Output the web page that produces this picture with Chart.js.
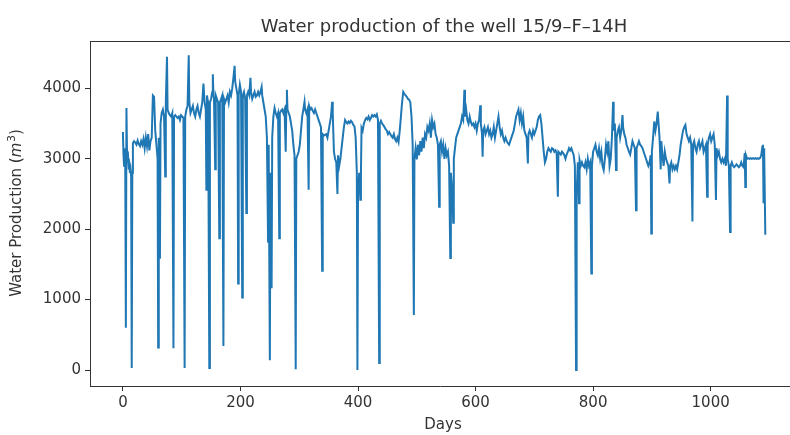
<!DOCTYPE html>
<html>
<head>
<meta charset="utf-8">
<script src="https://cdn.jsdelivr.net/npm/chart.js@4.4.1/dist/chart.umd.min.js"></script>
<style>
  html, body { margin: 0; padding: 0; background: #fff; }
  canvas { display: block; }
</style>
</head>
<body>
<canvas id="wellChart" width="790" height="435"></canvas>
<script>
// Days since start of production
var days = [
  0,1,2,3,4,5,6,7,8,9,
  10,11,12,13,14,15,16,17,19,21,
  23,25,27,29,31,33,35,37,39,41,
  43,45,47,49,51,53,55,57,59,60,
  61,63,64,66,68,70,72,73,75,76,
  78,80,82,84,86,87,89,91,93,95,
  97,99,101,103,105,106,108,110,112,113,
  115,117,119,121,123,125,127,129,131,133,
  135,137,139,141,142,143,145,147,148,150,
  152,153,154,155,157,158,160,162,164,165,
  167,169,171,172,174,176,178,180,182,184,
  186,188,190,191,193,195,196,197,199,201,
  203,204,206,208,210,211,213,215,217,218,
  220,222,224,226,228,230,232,234,236,237,
  239,241,243,245,247,248,250,251,253,254,
  256,258,260,262,264,266,267,269,271,273,
  275,277,278,279,280,282,284,286,288,290,
  292,294,295,297,299,301,303,305,307,309,
  310,312,314,316,317,319,321,323,325,327,
  329,331,333,335,337,339,340,342,344,346,
  348,350,352,354,356,357,359,361,363,365,
  366,368,370,372,374,376,378,380,382,384,
  386,388,390,392,394,396,398,399,400,402,
  404,405,406,408,410,412,414,416,418,420,
  422,424,426,428,430,432,434,436,437,439,
  441,443,445,447,449,451,453,455,457,459,
  461,463,465,467,469,471,473,475,477,479,
  481,483,485,487,489,491,493,495,496,498,
  500,502,504,506,508,510,512,514,516,518,
  520,522,524,526,528,530,532,534,536,538,
  539,541,543,545,547,549,551,553,555,557,
  558,560,562,563,565,567,569,571,573,575,
  577,579,581,582,584,586,588,590,592,594,
  596,598,600,602,604,606,608,609,611,612,
  613,615,617,619,621,623,625,627,629,631,
  633,635,637,639,641,643,645,647,649,651,
  653,655,657,659,661,663,665,667,669,671,
  673,675,677,679,681,683,685,687,689,690,
  692,694,696,698,700,702,704,706,708,710,
  712,714,716,718,720,722,724,726,728,730,
  732,734,736,738,740,741,743,745,747,749,
  751,753,755,757,759,761,763,765,767,769,
  771,772,774,776,777,779,781,783,785,787,
  789,791,793,795,797,798,800,802,804,806,
  808,810,812,814,816,818,820,822,824,826,
  828,830,832,834,835,837,839,840,842,844,
  846,848,850,851,853,855,857,859,861,863,
  865,867,869,871,873,874,876,878,880,882,
  884,886,888,890,892,894,896,898,899,900,
  902,904,906,908,910,911,913,915,916,918,
  920,922,924,926,928,930,931,933,935,937,
  939,941,943,945,947,949,951,953,955,957,
  959,961,963,965,967,969,970,972,974,976,
  978,980,982,984,986,988,990,992,994,995,
  997,999,1001,1003,1005,1007,1009,1010,1012,1014,
  1016,1018,1020,1022,1024,1026,1028,1029,1031,1033,
  1034,1036,1038,1040,1042,1044,1046,1048,1050,1052,
  1054,1056,1058,1059,1060,1062,1064,1066,1068,1070,
  1072,1074,1076,1078,1080,1082,1084,1086,1088,1089,
  1090,1091,1093
];

// Water production (m3), one value per entry of days
var water = [
  3380,3050,2900,3150,2880,600,3720,3100,2950,3000,
  2850,2900,2800,2850,2750,30,2800,3220,3250,3230,
  3200,3260,3210,3180,3250,3200,3280,3150,3300,3180,
  3350,3120,3250,3300,3900,3880,3400,3200,3000,320,
  3300,1580,3500,3650,3700,3600,2750,3800,4450,3700,
  3650,3620,3600,3650,310,3600,3620,3600,3580,3600,
  3550,3620,3600,3580,30,3600,3700,3750,4470,3800,
  3650,3700,3750,3650,3600,3700,3750,3650,3600,3700,
  3800,4070,3800,3700,2560,3900,3800,30,3800,3850,
  3950,4200,3900,3850,2850,3900,3850,3800,1870,3800,
  3850,3900,340,3850,3800,3850,3900,3800,3950,3900,
  4000,4150,4320,4100,4000,3900,1230,3900,4050,3950,
  1030,3900,3950,3850,2230,3900,3950,3900,4150,3950,
  3850,3900,3950,3880,3900,3950,3900,3950,4020,3900,
  3800,3700,3600,3300,1820,3200,140,2800,1160,3300,
  3600,3720,3650,3600,3650,1870,3650,3680,3700,3650,
  3700,3100,3750,3980,3700,3650,3600,3500,3400,3200,
  3050,10,3000,3050,3100,3200,3400,3600,3700,3810,
  3700,3650,3700,2560,3750,3700,3720,3680,3650,3700,
  3650,3600,3550,3500,3450,1410,3350,3330,3340,3350,
  3300,3400,3500,3600,3810,3650,3100,3000,2950,2500,
  3050,2900,3000,3150,3300,3450,3550,3520,3500,3530,
  3510,3540,3520,3480,3460,3300,2800,0,2500,2800,
  2420,2800,3440,3400,3500,3550,3580,3560,3600,3550,
  3580,3620,3600,3620,3600,3630,3550,100,3500,3540,
  3500,3480,3450,3420,3400,3350,3380,3350,3320,3300,
  3350,3280,3250,3300,3240,3400,3600,3800,3950,3920,
  3900,3880,3850,3840,3800,3600,3200,780,3000,3150,
  2990,3200,3050,3250,3100,3300,3150,3350,3300,3450,
  3400,3500,3300,3550,3450,3500,3350,3300,3200,2320,
  3200,3250,3100,3200,3000,3150,3050,3100,2900,1590,
  2800,2600,2090,3000,3150,3300,3350,3400,3450,3500,
  3600,3550,3980,3600,3700,3550,3500,3600,3520,3480,
  3500,3450,3500,3400,3500,3550,3760,3500,3350,3030,
  3400,3450,3350,3400,3450,3350,3400,3300,3350,3450,
  3300,3400,3500,3600,3450,3350,3400,3300,3250,3300,
  3250,3220,3200,3250,3300,3350,3400,3500,3600,3650,
  3700,3550,3650,3500,3600,3400,3350,3300,2935,3350,
  3400,3350,3300,3400,3350,3400,3450,3550,3600,3620,
  3500,3300,3100,2950,3000,3100,3150,3120,3100,3150,
  3140,3100,3120,3080,2460,3100,3080,3060,3100,3080,
  3050,3000,3060,3100,3150,3120,3150,3100,3050,2900,
  0,2500,2950,2370,2980,2900,2950,2900,2880,2950,
  2850,3000,2900,2950,1370,2900,3100,3150,3200,3100,
  3050,3150,3000,3100,2900,2840,3000,3200,3100,3250,
  2900,3000,3300,3810,3400,3500,2840,3300,3400,3450,
  3300,3400,3620,3450,3350,3300,3200,3150,3100,3060,
  3150,3250,3200,3150,2270,3150,3200,3250,3200,3180,
  3150,3100,3050,3000,2950,2900,2950,3050,1940,3100,
  3300,3530,3400,3500,3670,3550,3300,2850,3250,3050,
  2900,3100,3000,2950,2900,2650,2900,2950,2850,2900,
  2850,2900,2850,2950,3050,3200,3300,3400,3450,3480,
  3350,3300,3250,3300,3200,2110,3200,3250,3150,3100,
  3200,3250,3150,3200,3250,3100,3150,3200,2460,3200,
  3300,3350,3250,3300,3350,3200,2415,3150,3050,3100,
  3000,2950,3000,2950,3000,2900,3900,3000,2900,1960,
  2900,2950,2900,2880,2900,2920,2900,2880,2900,2950,
  2900,2880,3080,2600,3050,3000,3010,3000,3010,3000,
  3010,3000,3010,3000,3010,3000,3010,3050,3170,3200,
  2370,3150,1920
];

// Tick labels
var xTicks = [0, 200, 400, 600, 800, 1000];
var yTicks = [0, 1000, 2000, 3000, 4000];

var lineColor = '#1f77b4';
var axisColor = '#333333';
var textColor = '#333333';
var fontFamily = '"DejaVu Sans", sans-serif';

// Title, axis labels and top spine
var decorations = {
  id: 'decorations',
  afterDraw: function (chart) {
    var ctx = chart.ctx;
    var area = chart.chartArea;
    ctx.save();

    // top spine
    ctx.strokeStyle = axisColor;
    ctx.lineWidth = 1;
    ctx.beginPath();
    ctx.moveTo(area.left, area.top + 0.5);
    ctx.lineTo(area.right, area.top + 0.5);
    ctx.stroke();

    ctx.fillStyle = textColor;

    // title
    ctx.font = '18px ' + fontFamily;
    ctx.textAlign = 'center';
    ctx.textBaseline = 'alphabetic';
    ctx.fillText('Water production of the well 15/9\u2013F\u201314H', 444, 32);

    // x label
    ctx.font = '15px ' + fontFamily;
    ctx.textBaseline = 'top';
    ctx.fillText('Days', 443, 418);

    // y label: Water Production (m^3) with italic m and superscript
    var parts = [
      { t: 'Water Production (', f: '15px ' + fontFamily, dy: 0 },
      { t: 'm', f: 'italic 15px ' + fontFamily, dy: 0 },
      { t: '3', f: '10.5px ' + fontFamily, dy: -6 },
      { t: ')', f: '15px ' + fontFamily, dy: 0 }
    ];
    var total = 0;
    parts.forEach(function (p) {
      ctx.font = p.f;
      p.w = ctx.measureText(p.t).width;
      total += p.w;
    });
    ctx.translate(21, (area.top + area.bottom) / 2);
    ctx.rotate(-Math.PI / 2);
    ctx.textAlign = 'left';
    ctx.textBaseline = 'alphabetic';
    var x = -total / 2;
    parts.forEach(function (p) {
      ctx.font = p.f;
      ctx.fillText(p.t, x, p.dy);
      x += p.w + (p.t === 'm' ? 1 : 0);
    });

    ctx.restore();
  }
};

var points = days.map(function (d, i) {
  return { x: d, y: water[i] };
});

function plainLabel(value) {
  return String(value);
}

var config = {
  type: 'line',
  data: {
    datasets: [{
      data: points,
      borderColor: lineColor,
      borderWidth: 2,
      pointRadius: 0,
      tension: 0,
      fill: false
    }]
  },
  options: {
    responsive: false,
    animation: false,
    events: [],
    layout: { padding: { top: 41, left: 0, right: 0, bottom: 0 } },
    plugins: {
      legend: { display: false },
      title: { display: false },
      tooltip: { enabled: false }
    },
    scales: {
      x: {
        type: 'linear',
        min: -56,
        max: 1135,
        afterBuildTicks: function (scale) {
          scale.ticks = xTicks.map(function (v) { return { value: v }; });
        },
        afterFit: function (scale) { scale.height = 49; },
        grid: { drawOnChartArea: false, tickLength: 5, color: axisColor, tickWidth: 1 },
        border: { color: axisColor, width: 1 },
        ticks: {
          color: textColor,
          font: { family: fontFamily, size: 15 },
          padding: 3,
          maxRotation: 0,
          autoSkip: false,
          callback: plainLabel
        }
      },
      y: {
        min: -227,
        max: 4673,
        afterBuildTicks: function (scale) {
          scale.ticks = yTicks.map(function (v) { return { value: v }; });
        },
        afterFit: function (scale) { scale.width = 90; },
        grid: { drawOnChartArea: false, tickLength: 5, color: axisColor, tickWidth: 1 },
        border: { color: axisColor, width: 1 },
        ticks: {
          color: textColor,
          font: { family: fontFamily, size: 15 },
          padding: 4,
          autoSkip: false,
          callback: plainLabel
        }
      }
    }
  },
  plugins: [decorations]
};

var myChart = new Chart(document.getElementById('wellChart'), config);
</script>
</body>
</html>
